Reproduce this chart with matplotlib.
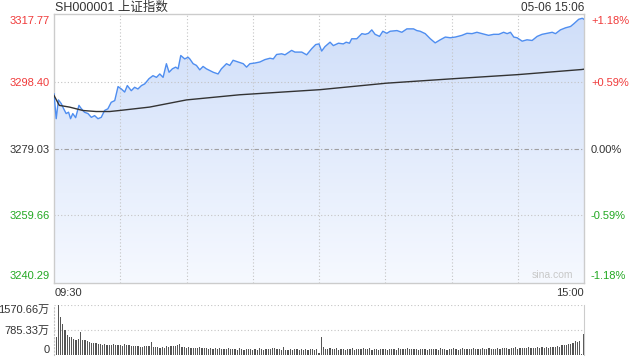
"""
SH000001 intraday chart (price + average line + minute volume)
"""

import numpy as np
import matplotlib
matplotlib.use("Agg")
import matplotlib.pyplot as plt
from matplotlib.colors import LinearSegmentedColormap

plt.rcParams['font.family'] = ['Liberation Sans', 'Noto Sans CJK SC', 'DejaVu Sans']

# price trace, minutes after 09:30 (0..240)
price_minutes = [
    0, 1.0, 2.0, 3.3, 4.3, 5.5, 6.6, 7.5, 8.5, 9.8, 11.3, 12.3, 13.8, 15.4, 16.9,
    18.4, 19.9, 21.4, 22.9, 24.4, 25.9, 27.5, 29.0, 30.5, 32.0, 33.2, 35.0, 36.5,
    38.0, 39.6, 41.1, 43.0, 44.8, 46.4, 47.9, 49.4, 50.9, 52.1, 53.6, 55.1, 56.2,
    57.4, 59.2, 60.7, 61.5, 63.0, 64.5, 66.0, 67.5, 69.0, 70.6, 72.1, 74.3, 75.8,
    78.1, 79.6, 81.1, 83.4, 85.7, 87.2, 88.7, 91.0, 93.2, 95.5, 97.8, 99.3, 100.8,
    103.1, 104.6, 107.6, 109.1, 112.2, 114.4, 116.7, 118.5, 120.0, 121.2, 122.7,
    125.0, 126.5, 128.8, 131.0, 132.3, 133.8, 134.8, 137.1, 139.4, 140.9, 142.4,
    143.9, 145.4, 147.4, 148.9, 150.7, 152.2, 155.3, 157.5, 159.8, 162.8, 164.3,
    165.8, 168.1, 170.4, 172.6, 174.9, 177.2, 179.4, 181.7, 184.7, 187.0, 189.3,
    191.5, 193.8, 196.8, 199.1, 201.4, 203.6, 205.2, 206.7, 208.2, 209.7, 212.0,
    214.2, 216.5, 218.8, 221.0, 223.3, 225.6, 227.1, 229.3, 231.6, 233.9, 235.4,
    237.6, 239.2, 240,
]
price_values = [
    3295.1, 3287.8, 3293.3, 3292.2, 3290.8, 3289.3, 3289.7, 3287.8, 3289.3, 3288.1,
    3291.7, 3290.8, 3289.7, 3289.3, 3288.2, 3288.7, 3287.8, 3288.2, 3290.2, 3290.7,
    3292.6, 3293.1, 3297.2, 3296.5, 3295.6, 3297.5, 3296.0, 3297.0, 3296.5, 3297.5,
    3298.0, 3299.5, 3300.4, 3299.9, 3300.9, 3299.9, 3303.9, 3301.4, 3302.4, 3302.9,
    3302.4, 3306.3, 3305.3, 3305.8, 3305.3, 3303.9, 3303.4, 3302.1, 3303.1, 3302.4,
    3301.9, 3301.4, 3300.9, 3302.4, 3303.9, 3303.4, 3304.9, 3304.4, 3303.9, 3302.9,
    3303.9, 3304.1, 3304.4, 3305.1, 3305.5, 3305.3, 3306.6, 3306.8, 3306.5, 3307.8,
    3307.3, 3307.3, 3306.5, 3308.3, 3309.5, 3309.7, 3307.6, 3308.9, 3310.2, 3309.2,
    3309.9, 3309.7, 3310.2, 3309.9, 3311.2, 3311.2, 3312.7, 3312.5, 3312.8, 3313.8,
    3312.5, 3311.9, 3313.4, 3312.8, 3313.4, 3313.6, 3313.1, 3314.1, 3314.1, 3313.6,
    3313.4, 3312.7, 3311.2, 3310.0, 3310.9, 3311.7, 3311.5, 3311.7, 3312.2, 3312.8,
    3312.7, 3313.1, 3312.7, 3312.2, 3312.5, 3312.5, 3313.1, 3312.7, 3313.1, 3311.7,
    3311.5, 3310.5, 3310.9, 3310.7, 3311.9, 3312.5, 3312.8, 3313.1, 3312.7, 3313.8,
    3314.4, 3314.8, 3315.6, 3316.9, 3317.2, 3316.9,
]

# average price line
avg_minutes = [0, 2.4, 7.0, 13.1, 19.1, 25.2, 29.7, 43.3, 60.0, 84.0, 120.5,
               150.6, 180.7, 210.0, 239.0, 240]
avg_values = [3294.6, 3291.7, 3291.2, 3290.2, 3289.9, 3289.9, 3290.2, 3291.2,
              3293.3, 3294.8, 3296.3, 3298.2, 3299.5, 3300.7, 3302.2, 3302.3]

# minute volume, in 万
volume = [
    580, 1570.66, 1190, 960, 800, 630, 580, 550, 510, 460,
    500, 730, 480, 460, 450, 420, 390, 380, 370, 340,
    330, 320, 330, 310, 320, 300, 330, 310, 300, 320,
    290, 360, 300, 310, 280, 290, 270, 280, 260, 250,
    290, 270, 280, 400, 260, 240, 250, 230, 240, 230,
    280, 250, 270, 290, 280, 300, 330, 250, 240, 230,
    240, 220, 230, 220, 210, 240, 230, 220, 230, 200,
    210, 190, 220, 200, 210, 190, 200, 180, 210, 190,
    200, 180, 170, 210, 190, 170, 200, 180, 190, 170,
    180, 170, 220, 180, 170, 190, 200, 180, 210, 230,
    180, 190, 170, 250, 170, 160, 180, 170, 190, 180,
    170, 180, 160, 190, 170, 180, 200, 170, 190, 60,
    550, 260, 200, 180, 230, 190, 180, 210, 170, 180,
    190, 170, 200, 180, 210, 170, 190, 180, 200, 210,
    180, 190, 220, 170, 180, 190, 170, 180, 200, 180,
    170, 190, 180, 200, 170, 210, 190, 180, 200, 230,
    190, 200, 180, 190, 170, 200, 180, 190, 170, 180,
    200, 180, 190, 170, 210, 180, 200, 170, 190, 180,
    210, 190, 170, 200, 220, 180, 190, 200, 180, 210,
    190, 180, 200, 220, 190, 200, 210, 190, 200, 190,
    210, 200, 220, 210, 230, 200, 220, 210, 240, 200,
    220, 210, 230, 220, 240, 210, 230, 220, 240, 230,
    250, 220, 240, 230, 250, 240, 260, 280, 250, 300,
    320, 300, 340, 360, 380, 430, 410, 430, 40, 660,
]

pre_close = 3279.03
price_levels = [3240.29, 3259.66, 3279.03, 3298.40, 3317.77]
price_labels = ['3240.29', '3259.66', '3279.03', '3298.40', '3317.77']
pct_labels = ['-1.18%', '-0.59%', '0.00%', '+0.59%', '+1.18%']
vol_levels = [0, 785.33, 1570.66]
vol_labels = ['0', '785.33万', '1570.66万']
grid_minutes = [30, 60, 90, 120, 150, 180, 210]

RED = '#f03a3a'
GREEN = '#22a822'
DARK = '#333333'
GRID = '#c4c4c4'
BORDER = '#cccccc'

fig = plt.figure(figsize=(6.4, 3.6), dpi=100)
ax = fig.add_axes([54 / 640, 77 / 360, 530 / 640, 269 / 360])
vax = fig.add_axes([54 / 640, 5 / 360, 530 / 640, 50 / 360])

ylim = (3239.70, 3318.45)
xlim = (0, 240)

# gradient fill under the price line
poly = ax.fill_between(price_minutes, price_values, ylim[0], color='none', lw=0)
grad = np.linspace(1, 0, 256).reshape(-1, 1)
cmap = LinearSegmentedColormap.from_list('fill', ['#f6f9ff', '#cfdef9'])
im = ax.imshow(grad, extent=[xlim[0], xlim[1], ylim[0], ylim[1]], aspect='auto',
               cmap=cmap, origin='upper', zorder=1)
im.set_clip_path(poly.get_paths()[0], transform=ax.transData)

ax.plot(price_minutes, price_values, color='#4f8ef0', lw=1.0, zorder=3)
ax.plot(avg_minutes, avg_values, color=DARK, lw=1.0, zorder=3)

for m in grid_minutes:
    ax.axvline(m, color=GRID, lw=0.8, linestyle=(0, (1, 2)), zorder=2)
for lv in [3298.40, 3259.66]:
    ax.axhline(lv, color=GRID, lw=0.8, linestyle=(0, (1, 2)), zorder=2)
ax.axhline(pre_close, color='#a0a0a0', lw=0.8, linestyle=(0, (4, 2, 1, 2)), zorder=2)

ax.set_xlim(xlim)
ax.set_ylim(ylim)
ax.set_xticks([])
for s in ax.spines.values():
    s.set_color(BORDER)
    s.set_linewidth(1.0)

colors = [GREEN, GREEN, DARK, RED, RED]
ax.set_yticks(price_levels)
ax.set_yticklabels(price_labels)
ax.tick_params(axis='y', length=0, pad=3, labelsize=8)
for lbl, c in zip(ax.get_yticklabels(), colors):
    lbl.set_color(c)
ax.get_yticklabels()[0].set_va('bottom')
ax.get_yticklabels()[-1].set_va('top')

ax2 = ax.twinx()
ax2.set_ylim(ylim)
ax2.set_yticks(price_levels)
ax2.set_yticklabels(pct_labels)
ax2.tick_params(axis='y', length=0, pad=5, labelsize=8)
for lbl, c in zip(ax2.get_yticklabels(), colors):
    lbl.set_color(c)
ax2.get_yticklabels()[0].set_va('bottom')
ax2.get_yticklabels()[-1].set_va('top')
for s in ax2.spines.values():
    s.set_visible(False)

ax.text(235, 3240.6, 'sina.com', color='#c8c8c8', fontsize=7.5, ha='right',
        va='bottom', zorder=4)

# volume panel
vax.bar(np.arange(1, len(volume) + 1), volume, width=0.55, color='#555555', lw=0)
vax.set_xlim(xlim)
vax.set_ylim(0, 1570.66)
vax.set_xticks([])
vax.set_yticks(vol_levels)
vax.set_yticklabels(vol_labels)
vax.tick_params(axis='y', length=0, pad=3, labelsize=8, labelcolor=DARK)
vax.get_yticklabels()[0].set_va('bottom')
vax.get_yticklabels()[-1].set_va('top')
for lv in [785.33, 1570.66]:
    vax.axhline(lv, color=GRID, lw=0.8, linestyle=(0, (1, 2)), zorder=0)
vax.spines['top'].set_visible(False)
vax.spines['bottom'].set_visible(False)
vax.spines['right'].set_color(BORDER)
vax.spines['left'].set_color(GRID)
vax.spines['left'].set_linestyle((0, (1, 2)))
vax.spines['left'].set_linewidth(0.8)

# header and time labels
fig.text(55 / 640, 1 - 8 / 360, 'SH000001 上证指数', fontsize=9, color=DARK,
         ha='left', va='center')
fig.text(584 / 640, 1 - 8 / 360, '05-06 15:06', fontsize=8.5, color=DARK,
         ha='right', va='center')
fig.text(55 / 640, 1 - 293 / 360, '09:30', fontsize=8, color=DARK,
         ha='left', va='center')
fig.text(584 / 640, 1 - 293 / 360, '15:00', fontsize=8, color=DARK,
         ha='right', va='center')

fig.savefig('out.png', dpi=100)
